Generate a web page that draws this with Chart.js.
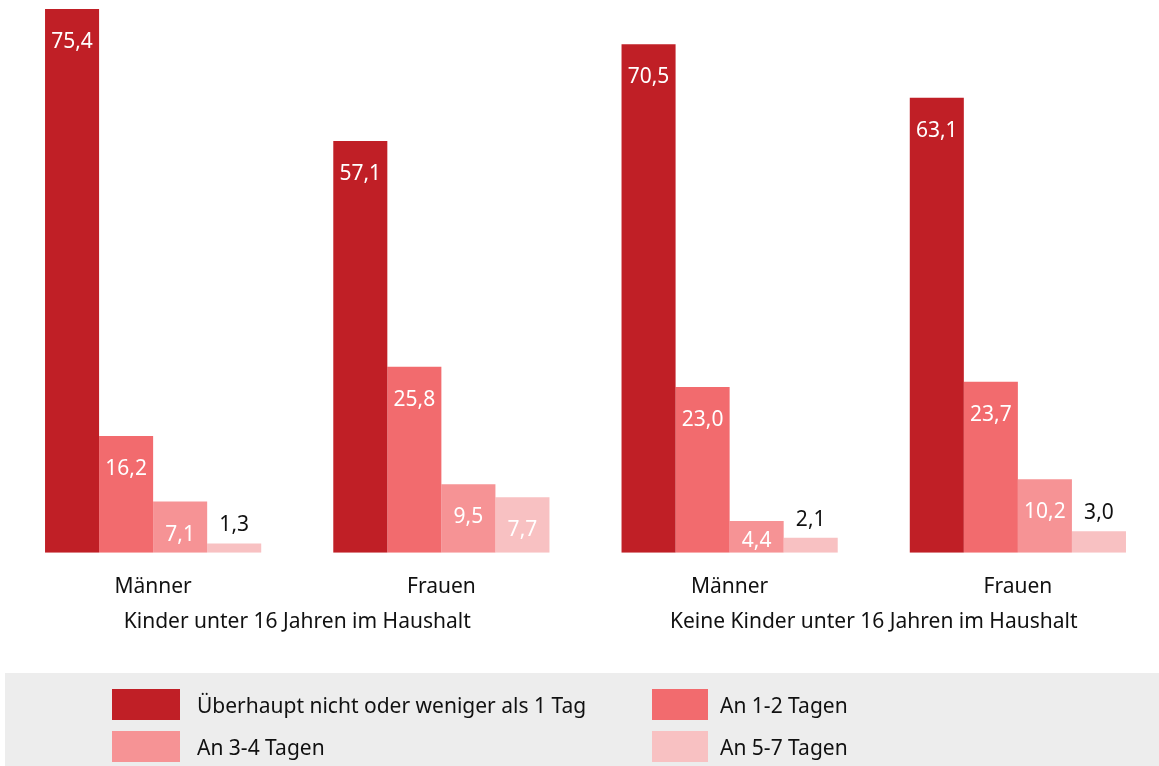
<!DOCTYPE html>
<html>
<head>
<meta charset="utf-8">
<script src="https://cdn.jsdelivr.net/npm/chart.js@4/dist/chart.umd.min.js"></script>
<style>
  html, body { margin: 0; padding: 0; background: #fff; overflow: hidden; }
  #wrap { position: relative; width: 1162px; height: 766px; }
</style>
</head>
<body>
<div id="wrap"><canvas id="chart"></canvas></div>
<script>
const categories = ['Männer', 'Frauen', 'Männer', 'Frauen'];
const groupLabels = ['Kinder unter 16 Jahren im Haushalt', 'Keine Kinder unter 16 Jahren im Haushalt'];
const seriesNames = ['Überhaupt nicht oder weniger als 1 Tag', 'An 1-2 Tagen', 'An 3-4 Tagen', 'An 5-7 Tagen'];
const notAtAll = [75.4, 57.1, 70.5, 63.1];
const days12 = [16.2, 25.8, 23.0, 23.7];
const days34 = [7.1, 9.5, 4.4, 10.2];
const days57 = [1.3, 7.7, 2.1, 3.0];
const colors = ['#C01F26', '#F26B6E', '#F69395', '#F8C1C2'];

const FONT = '"Noto Sans", sans-serif';

// value labels: white inside the bar, black above it when the bar is too short
const valueLabels = {
    id: 'valueLabels',
    afterDatasetsDraw(chart) {
        const ctx = chart.ctx;
        ctx.save();
        ctx.font = '21px ' + FONT;
        ctx.textAlign = 'center';
        ctx.textBaseline = 'middle';
        chart.data.datasets.forEach((ds, i) => {
            chart.getDatasetMeta(i).data.forEach((bar, j) => {
                const v = ds.data[j];
                const text = v.toFixed(1).replace('.', ',');
                if (v < 4) {
                    ctx.fillStyle = '#111';
                    ctx.fillText(text, bar.x, bar.y - 18);
                } else {
                    ctx.fillStyle = '#fff';
                    const y = Math.min(bar.y + 33, bar.base - 12);
                    ctx.fillText(text, bar.x, y);
                }
            });
        });
        ctx.restore();
    }
};

// legend box at the bottom, two columns
const boxLegend = {
    id: 'boxLegend',
    afterDraw(chart) {
        const ctx = chart.ctx;
        ctx.save();
        ctx.fillStyle = '#EDEDED';
        ctx.fillRect(5, 673, 1154, 93);
        const spots = [
            { x: 112, y: 689, w: 68, tx: 197 },
            { x: 652, y: 689, w: 56, tx: 720 },
            { x: 112, y: 731, w: 68, tx: 197 },
            { x: 652, y: 731, w: 56, tx: 720 }
        ];
        ctx.font = '21px ' + FONT;
        ctx.textBaseline = 'middle';
        ctx.textAlign = 'left';
        spots.forEach((s, i) => {
            ctx.fillStyle = colors[i];
            ctx.fillRect(s.x, s.y, s.w, 31);
            ctx.fillStyle = '#111';
            ctx.fillText(seriesNames[i], s.tx, s.y + 18);
        });
        ctx.restore();
    }
};

const ctx = document.getElementById('chart').getContext('2d');
new Chart(ctx, {
    type: 'bar',
    data: {
        labels: categories,
        datasets: [
            { label: seriesNames[0], data: notAtAll, backgroundColor: colors[0] },
            { label: seriesNames[1], data: days12, backgroundColor: colors[1] },
            { label: seriesNames[2], data: days34, backgroundColor: colors[2] },
            { label: seriesNames[3], data: days57, backgroundColor: colors[3] }
        ]
    },
    options: {
        responsive: true,
        maintainAspectRatio: false,
        animation: false,
        layout: { padding: { left: 9, right: 0, top: 9, bottom: 122 } },
        datasets: {
            bar: { categoryPercentage: 0.75, barPercentage: 1.0, borderWidth: 0 }
        },
        scales: {
            y: { display: false, min: 0, max: 75.4 },
            x: {
                grid: { display: false, drawTicks: false },
                border: { display: false },
                ticks: { color: '#111', font: { family: FONT, size: 21 }, padding: 22, maxRotation: 0 },
                afterFit: (scale) => { scale.height = 48; }
            },
            x2: {
                type: 'category',
                labels: groupLabels,
                position: 'bottom',
                grid: { display: false, drawTicks: false },
                border: { display: false },
                ticks: { color: '#111', font: { family: FONT, size: 21 }, padding: 9, maxRotation: 0 }
            }
        },
        plugins: {
            legend: { display: false },
            tooltip: { enabled: false }
        }
    },
    plugins: [valueLabels, boxLegend]
});
</script>
</body>
</html>
